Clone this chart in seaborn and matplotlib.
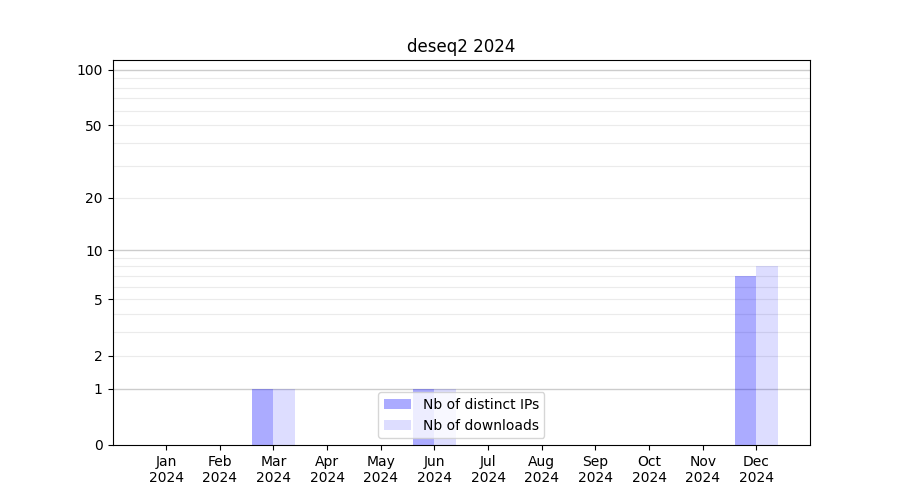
import numpy as np
import pandas as pd
import matplotlib
matplotlib.use("Agg")
import matplotlib.pyplot as plt
import seaborn as sns

months = ["Jan", "Feb", "Mar", "Apr", "May", "Jun", "Jul", "Aug", "Sep", "Oct", "Nov", "Dec"]
year = "2024"
nb_ips = [0, 0, 1, 0, 0, 1, 0, 0, 0, 0, 0, 7]
nb_downloads = [0, 0, 1, 0, 0, 1, 0, 0, 0, 0, 0, 8]
series = ["Nb of distinct IPs", "Nb of downloads"]
ytick_vals = [0, 1, 2, 5, 10, 20, 50, 100]

labels = [m + "\n" + year for m in months]
df = pd.DataFrame({
    "month": labels * 2,
    "value": nb_ips + nb_downloads,
    "kind": [series[0]] * 12 + [series[1]] * 12,
})

def fwd(x):
    with np.errstate(invalid="ignore", divide="ignore"):
        return np.log10(1 + np.asarray(x, dtype=float))

def inv(y):
    return 10 ** np.asarray(y, dtype=float) - 1

fig, ax = plt.subplots(figsize=(9, 5), dpi=100)
sns.barplot(data=df, x="month", y="value", hue="kind", order=labels,
            hue_order=series, palette=["blue", "blue"], width=0.8,
            saturation=1, legend=False, ax=ax)

alphas = [0.33, 0.135]
for cont, a in zip(ax.containers, alphas):
    for p in cont:
        p.set_alpha(a)
        p.set_linewidth(0)

ax.set_yscale("function", functions=(fwd, inv))
ax.set_ylim(0, 113)
ax.set_xlim(-1, 12)

# grid lines: decades darker, intermediate lighter
for v in list(range(2, 10)) + list(range(20, 100, 10)):
    ax.axhline(v, color="#ebebeb", lw=0.8, zorder=0)
for v in [1, 10, 100]:
    ax.axhline(v, color="#cccccc", lw=1, zorder=0)

ax.set_yticks(ytick_vals)
ax.set_yticklabels([str(v) for v in ytick_vals])
ax.yaxis.set_minor_locator(matplotlib.ticker.NullLocator())
ax.set_xlabel("")
ax.set_ylabel("")
ax.set_title("deseq2 2024")
ax.legend(ax.containers, series, loc="lower center")

fig.savefig("out.png", dpi=100)
